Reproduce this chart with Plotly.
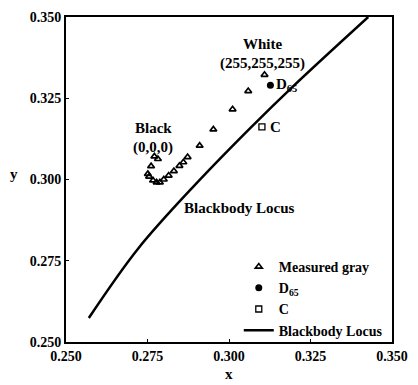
import plotly.graph_objects as go

# Measured gray-ramp chromaticities (from black to white)
gray_x = [0.2771, 0.2782, 0.2761, 0.2751, 0.2755, 0.2767, 0.2778, 0.2788, 0.2800,
          0.2815, 0.2831, 0.2848, 0.2860, 0.2873, 0.2910, 0.2952, 0.3011, 0.3059, 0.3109]
gray_y = [0.3071, 0.3063, 0.3041, 0.3017, 0.3009, 0.2997, 0.2991, 0.2991, 0.3000,
          0.3012, 0.3026, 0.3042, 0.3053, 0.3069, 0.3104, 0.3154, 0.3216, 0.3272, 0.3322]

# Reference white points
d65_x, d65_y = [0.3127], [0.3290]
c_x, c_y = [0.3101], [0.3162]

# Blackbody locus
locus_x = [0.2570, 0.2721, 0.2900, 0.3069, 0.3199, 0.3427]
locus_y = [0.2574, 0.2787, 0.2988, 0.3162, 0.3289, 0.3500]

tick_vals = [0.250, 0.275, 0.300, 0.325, 0.350]
tick_text = ["0.250", "0.275", "0.300", "0.325", "0.350"]

FONT = "Times New Roman, Liberation Serif, serif"
text_font = dict(family=FONT, size=15, color="black", weight=700)
legend_font = dict(family=FONT, size=14, color="black", weight=700)
tick_font = dict(family=FONT, size=14, color="black", weight=700)


def bold(s):
    return "<b>" + s + "</b>"


fig = go.Figure()
fig.add_trace(go.Scatter(
    x=gray_x, y=gray_y, mode="markers", name=bold("Measured gray"),
    marker=dict(symbol="triangle-up-open", size=6, color="black",
                line=dict(width=1.7, color="black")),
))
fig.add_trace(go.Scatter(
    x=d65_x, y=d65_y, mode="markers", name=bold("D<sub>65</sub>"),
    marker=dict(symbol="circle", size=7, color="black"),
))
fig.add_trace(go.Scatter(
    x=c_x, y=c_y, mode="markers", name=bold("C"),
    marker=dict(symbol="square-open", size=6, color="black",
                line=dict(width=1.3, color="black")),
))
fig.add_trace(go.Scatter(
    x=locus_x, y=locus_y, mode="lines", name=bold("Blackbody Locus"),
    line=dict(color="black", width=2.5, shape="spline", smoothing=1.0),
))

annotations = [
    dict(x=0.3103, y=0.3416, text="White"),
    dict(x=0.3103, y=0.3358, text="(255,255,255)"),
    dict(x=0.2769, y=0.3157, text="Black"),
    dict(x=0.2766, y=0.3099, text="(0,0,0)"),
    dict(x=0.3031, y=0.2913, text="Blackbody Locus"),
    dict(x=0.3137, y=0.3292, text="D<sub>65</sub>", xanchor="left"),
    dict(x=0.3120, y=0.3162, text="C", xanchor="left"),
]
for a in annotations:
    a.setdefault("xanchor", "center")
    a["text"] = bold(a["text"])
    a.update(xref="x", yref="y", showarrow=False, yanchor="middle", font=text_font)

annotations += [
    dict(x=-0.158, y=0.518, xref="paper", yref="paper", text=bold("y"), showarrow=False,
         font=text_font, xanchor="center", yanchor="middle"),
    dict(x=0.4985, y=-0.099, xref="paper", yref="paper", text=bold("x"), showarrow=False,
         font=text_font, xanchor="center", yanchor="middle"),
]

axis_common = dict(
    tickvals=tick_vals, ticktext=[bold(t) for t in tick_text],
    ticks="inside", ticklen=3,
    tickwidth=1, tickcolor="black", showgrid=False, zeroline=False,
    showline=True, linecolor="black", linewidth=2, mirror=True,
    tickfont=tick_font,
)

fig.update_layout(
    width=418, height=385,
    margin=dict(l=66, r=17, t=10, b=43),
    plot_bgcolor="white", paper_bgcolor="white",
    xaxis=dict(range=[0.25, 0.35], **axis_common),
    yaxis=dict(range=[0.25, 0.35], **axis_common),
    showlegend=True,
    legend=dict(x=0.53, y=0.28, xanchor="left", yanchor="top",
                font=legend_font, bgcolor="rgba(0,0,0,0)", tracegroupgap=0,
                itemwidth=30),
    annotations=annotations,
)

fig.write_html("out.html")
